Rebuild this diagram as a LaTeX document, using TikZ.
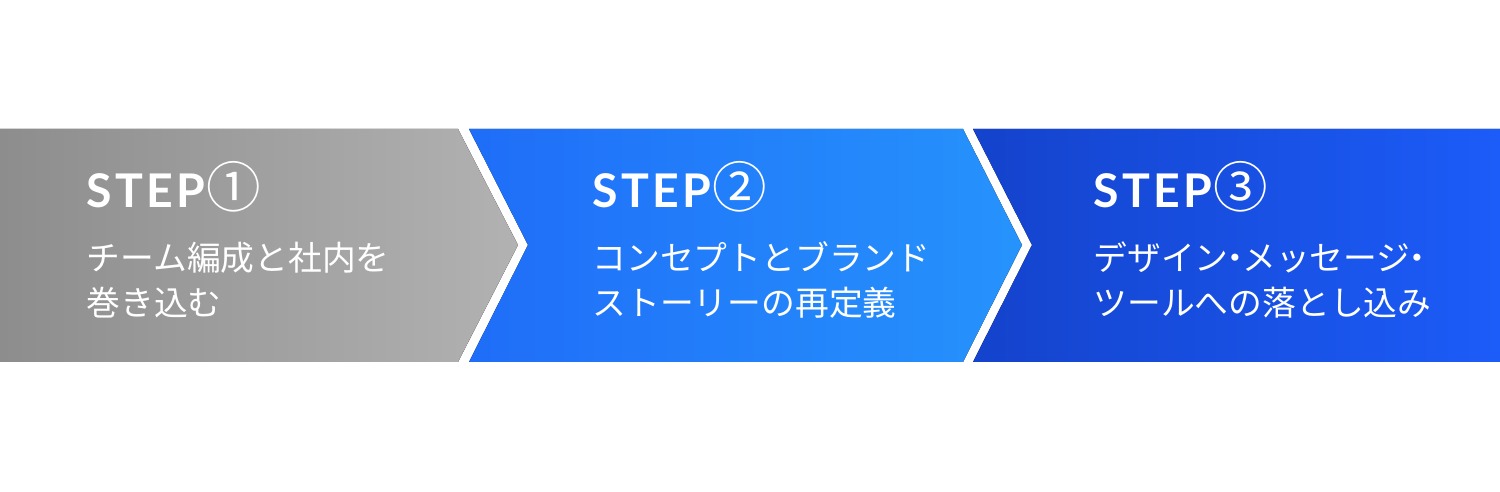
\documentclass[tikz,border=0pt]{standalone}
\usepackage{fontspec}
\usepackage{tikz}
\usetikzlibrary{positioning}
\newfontfamily\jpfont{Noto Sans CJK JP}
\newfontfamily\stepfont[LetterSpace=7]{Lato}
\definecolor{grayL}{HTML}{8D8D8D}
\definecolor{grayR}{HTML}{B2B2B2}
\definecolor{blueL}{HTML}{1F6DF8}
\definecolor{blueR}{HTML}{2693FC}
\definecolor{navyL}{HTML}{1443CC}
\definecolor{navyR}{HTML}{1C5CF8}
\newcommand{\nakaguro}{\kern-0.3em・\kern-0.3em}
\begin{document}
\begin{tikzpicture}[x=0.01cm, y=0.01cm]
            \tikzstyle{title} = [anchor=base west, inner sep=0pt, text=white, font=\stepfont\bfseries\fontsize{13.2}{14}\selectfont]
            \tikzstyle{desc} = [anchor=base west, inner sep=0pt, text=white, align=left, font=\jpfont\fontsize{9.6}{12.8}\selectfont]
            \newcommand{\stepnum}[1]{\hspace{0.5pt}{\jpfont\mdseries\fontsize{15.5}{16}\selectfont #1}}

            \useasboundingbox (0,0) rectangle (1500,492);

            % Chevrons
            \fill [left color=grayL, right color=grayR] (0,363) -- (458,363) -- (518,247) -- (458,130) -- (0,130) -- cycle;
            \fill [left color=blueL, right color=blueR] (469,363) -- (963,363) -- (1022,247) -- (963,130) -- (469,130) -- (528,247) -- cycle;
            \fill [left color=navyL, right color=navyR] (973,363) -- (1500,363) -- (1500,130) -- (973,130) -- (1032,247) -- cycle;

            % Nodes (desc anchored at its last baseline)
            \node (title1) [title] at (86,284) {STEP\stepnum{①}};
            \node (desc1) [desc] at (86,176) {チーム編成と社内を\\巻き込む};

            \node (title2) [title] at (592,284) {STEP\stepnum{②}};
            \node (desc2) [desc] at (592,176) {コンセプトとブランド\\ストーリーの再定義};

            \node (title3) [title] at (1093,284) {STEP\stepnum{③}};
            \node (desc3) [desc] at (1093,176) {デザイン\nakaguro メッセージ\nakaguro\\ツールへの落とし込み};
        \end{tikzpicture}
\end{document}
